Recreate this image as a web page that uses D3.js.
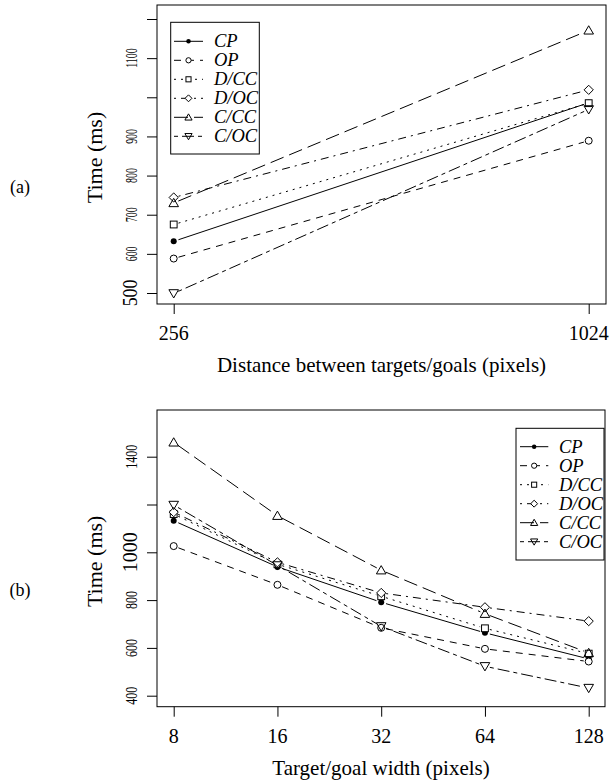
<!DOCTYPE html>
<html>
<head>
<script src="https://cdn.jsdelivr.net/npm/d3@7"></script>
<style>
  body { margin: 0; background: #fff; }
  text { font-family: "Liberation Serif", "DejaVu Serif", serif; fill: #000; }
</style>
</head>
<body>
<svg id="svg" width="610" height="783"></svg>
<script>
// series names and their R-style line / symbol types
var series = ["CP", "OP", "D/CC", "D/OC", "C/CC", "C/OC"];
var symbols = ["dot", "circle", "square", "diamond", "triangle", "triangleDown"];
var dashes = [null, "7,6", "2,5", "2,5,8,5", "14,6", "4,4,12,4"];

// panel (a): distance between targets
var distances = [256, 1024];
var timeA = [
  [632, 986],   // CP
  [588, 889],   // OP
  [675, 985],   // D/CC
  [744, 1019],  // D/OC
  [730, 1171],  // C/CC
  [499, 969]    // C/OC
];
var yTicksA = [500, 600, 700, 800, 900, 1000, 1100, 1200];
var yLabelsA = ["500", "600", "700", "800", "900", "", "1100", ""];

// panel (b): target width
var widths = [8, 16, 32, 64, 128];
var timeB = [
  [1132, 939, 791, 663, 554],   // CP
  [1026, 864, 684, 596, 543],   // OP
  [1160, 950, 816, 682, 576],   // D/CC
  [1168, 958, 830, 770, 712],   // D/OC
  [1460, 1153, 925, 743, 579],  // C/CC
  [1198, 945, 690, 523, 432]    // C/OC
];
var yTicksB = [400, 600, 800, 1000, 1200, 1400];
var yLabelsB = ["400", "600", "800", "1000", "", "1400"];

var svg = d3.select("#svg");

function drawSymbol(g, type, x, y, k) {
  k = k || 1;
  if (type == "dot") {
    g.append("circle").attr("cx", x).attr("cy", y).attr("r", 3 * k).attr("fill", "#000");
  } else if (type == "circle") {
    g.append("circle").attr("cx", x).attr("cy", y).attr("r", 3.5 * k)
      .attr("fill", "#fff").attr("stroke", "#000");
  } else if (type == "square") {
    var s = 3.4 * k;
    g.append("rect").attr("x", x - s).attr("y", y - s).attr("width", 2 * s).attr("height", 2 * s)
      .attr("fill", "#fff").attr("stroke", "#000");
  } else if (type == "diamond") {
    var d = 4.6 * k;
    g.append("path").attr("d", "M" + x + "," + (y - d) + "L" + (x + d) + "," + y + "L" + x + "," + (y + d) + "L" + (x - d) + "," + y + "Z")
      .attr("fill", "#fff").attr("stroke", "#000");
  } else {
    var h = 4.6 * k, w = 4.8 * k, sgn = type == "triangle" ? 1 : -1;
    g.append("path").attr("d", "M" + x + "," + (y - sgn * h) + "L" + (x + w) + "," + (y + sgn * h * 0.8) + "L" + (x - w) + "," + (y + sgn * h * 0.8) + "Z")
      .attr("fill", "none").attr("stroke", "#000");
  }
}

function panel(opt) {
  var g = svg.append("g");
  var x = opt.x, y = opt.y;

  // lines with gaps around points (type = "b")
  var gap = 5;
  opt.data.forEach(function(vals, i) {
    for (var j = 0; j < vals.length - 1; j++) {
      var x1 = x(opt.xs[j]), y1 = y(vals[j]), x2 = x(opt.xs[j + 1]), y2 = y(vals[j + 1]);
      var len = Math.sqrt((x2 - x1) * (x2 - x1) + (y2 - y1) * (y2 - y1));
      var ux = (x2 - x1) / len, uy = (y2 - y1) / len;
      g.append("line")
        .attr("x1", x1 + ux * gap).attr("y1", y1 + uy * gap)
        .attr("x2", x2 - ux * gap).attr("y2", y2 - uy * gap)
        .attr("stroke", "#000").attr("stroke-width", 1)
        .attr("stroke-dasharray", dashes[i]);
    }
  });
  opt.data.forEach(function(vals, i) {
    vals.forEach(function(v, j) { drawSymbol(g, symbols[i], x(opt.xs[j]), y(v)); });
  });

  // box
  g.append("rect").attr("x", opt.box[0]).attr("y", opt.box[1])
    .attr("width", opt.box[2] - opt.box[0]).attr("height", opt.box[3] - opt.box[1])
    .attr("fill", "none").attr("stroke", "#000");

  // axes
  var ax = g.append("g").attr("transform", "translate(0," + opt.box[3] + ")")
    .call(d3.axisBottom(x).tickValues(opt.xs).tickSize(10).tickFormat(""));
  var ay = g.append("g").attr("transform", "translate(" + opt.box[0] + ",0)")
    .call(d3.axisLeft(y).tickValues(opt.yTicks).tickSize(10).tickFormat(""));
  ax.select(".domain").remove();
  ay.select(".domain").remove();

  opt.xs.forEach(function(v) {
    g.append("text").attr("x", x(v)).attr("y", opt.box[3] + 36)
      .attr("text-anchor", "middle").style("font-size", "20px").text(v);
  });
  opt.yTicks.forEach(function(v, i) {
    var lab = opt.yLabels[i];
    if (!lab) return;
    var big = lab == opt.bigLabel;
    g.append("text")
      .attr("transform", "translate(137," + y(v) + ") rotate(-90) scale(" + (big ? opt.bigSqueeze : opt.squeeze) + ",1)")
      .attr("text-anchor", "middle")
      .style("font-size", big ? "21px" : "16px").text(lab);
  });

  var cx = (opt.box[0] + opt.box[2]) / 2, cy = (opt.box[1] + opt.box[3]) / 2;
  g.append("text").attr("x", cx).attr("y", opt.box[3] + 68)
    .attr("text-anchor", "middle").style("font-size", "21px").text(opt.xTitle);
  g.append("text").attr("transform", "translate(102," + (cy + 3) + ") rotate(-90)")
    .attr("text-anchor", "middle").style("font-size", "22px").text("Time (ms)");
  g.append("text").attr("x", 20).attr("y", cy + 38)
    .attr("text-anchor", "middle").style("font-size", "18px").text(opt.tag);

  // legend
  var L = opt.legend;
  g.append("rect").attr("x", L.x0).attr("y", L.y0).attr("width", L.x1 - L.x0).attr("height", L.y1 - L.y0)
    .attr("fill", "#fff").attr("stroke", "#000");
  series.forEach(function(name, i) {
    var ry = L.row0 + i * 19;
    g.append("line").attr("x1", L.lx0).attr("x2", L.lx1).attr("y1", ry).attr("y2", ry)
      .attr("stroke", "#000").attr("stroke-dasharray", dashes[i]);
    drawSymbol(g, symbols[i], (L.lx0 + L.lx1) / 2, ry, 0.75);
    g.append("text").attr("x", L.tx).attr("y", ry + 6)
      .style("font-size", "18.5px").style("font-style", "italic").text(name);
  });
}

panel({
  xs: distances, data: timeA,
  x: d3.scaleLinear().domain([256, 1024]).range([173.7, 588.7]),
  y: d3.scaleLinear().domain([500, 1200]).range([293, 19]),
  box: [157, 5, 606, 304],
  yTicks: yTicksA, yLabels: yLabelsA, squeeze: 0.62, bigLabel: "500", bigSqueeze: 0.85,
  xTitle: "Distance between targets/goals (pixels)", tag: "(a)",
  legend: { x0: 170.7, y0: 22.3, x1: 259.3, y1: 154, row0: 41.3, lx0: 174, lx1: 203, tx: 214 }
});

panel({
  xs: widths, data: timeB,
  x: d3.scaleLog().base(2).domain([8, 128]).range([173.7, 588.7]),
  y: d3.scaleLinear().domain([400, 1400]).range([695.7, 456.7]),
  box: [157, 410, 605, 706.7],
  yTicks: yTicksB, yLabels: yLabelsB, squeeze: 0.75, bigLabel: "1000", bigSqueeze: 0.95,
  xTitle: "Target/goal width (pixels)", tag: "(b)",
  legend: { x0: 516, y0: 428.3, x1: 604, y1: 560, row0: 446.7, lx0: 520, lx1: 548.3, tx: 559 }
});
</script>
</body>
</html>
